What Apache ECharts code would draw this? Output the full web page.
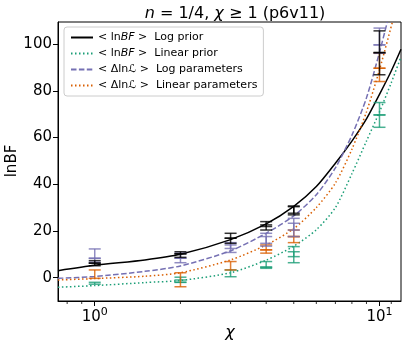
<!DOCTYPE html>
<html><head><meta charset="utf-8">
<script src="https://cdn.jsdelivr.net/npm/echarts@6/dist/echarts.min.js"></script>
<style>html,body{margin:0;padding:0;background:#fff}#c{width:407px;height:345px}</style>
</head><body><div id="c"></div>
<script>
// Curves: [chi, value]
const lnBFLogPrior = [[0.743,3.0],[1,5.3],[1.5,7.6],[2,10.0],[3,16.3],[4,23],[5,30.5],[6,39],[7,49],[8,58.5],[9,68],[10,78.5],[11,88.5],[11.9,97.8]];
const lnBFLinPrior = [[0.743,-4.1],[1,-3.4],[1.5,-2.1],[2,-1.2],[3,2.1],[4,7.5],[5,13.5],[6,20.5],[7,30],[8,44.5],[9,58.5],[10,71],[11,83.5],[11.9,94.6]];
const dLnLLogPar   = [[0.743,-0.3],[1,0.5],[1.5,2.7],[2,5.0],[3,11.5],[4,19],[5,26.5],[6,35.5],[7,47],[8,61],[9,77],[10,96.5],[10.65,109.5]];
const dLnLLinPar   = [[0.743,-1.0],[1,-0.4],[1.5,0.6],[2,2.1],[3,7.6],[4,14],[5,21],[6,30],[7,40.5],[8,55],[9,71],[10,89],[11.1,109.5]];
// Error bars: [chi, low, high]
const errLogPrior = [[1,5.1,7.3],[1,6.2,6.2],[2,8.7,11.1],[2,10.2,10.2],[3,14.7,19.0],[3,16.9,16.9],[4,20.4,24.0],[4,21.9,22.6],[5,26.9,30.7],[5,27.6,30.4],[10,86.9,105.7],[10,96.4,96.4]];
const errLinPrior = [[1,-2.8,-2.0],[2,-1.0,0.2],[2,-2.0,-2.0],[3,0.4,3.3],[4,4.0,6.9],[4,4.5,4.5],[5,6.4,13.3],[5,9.0,11.1],[10,64.4,75.0],[10,69.7,69.7]];
const errLogPar   = [[1,6.6,12.3],[1,8.3,8.3],[2,6.4,10.5],[2,8.3,8.3],[3,10.8,15.0],[3,12.5,14.0],[4,13.5,19.0],[4,14.7,17.6],[5,17.6,25.4],[5,20.4,23.3],[10,96.1,106.9],[10,99.7,99.7]];
const errLinPar   = [[1,-0.3,3.3],[2,-3.9,2.1],[3,3.3,6.9],[4,10.5,14.0],[4,11.9,11.9],[5,15.0,20.4],[5,17.6,17.6],[10,84.0,96.1],[10,89.7,89.7]];
// Ticks
const xMajorTicks = [1, 10];
const xMinorTicks = [0.8, 0.9, 2, 3, 4, 5, 6, 7, 8, 9, 11];
const yTicks = [0, 20, 40, 60, 80, 100];
const X_MIN = 0.743, X_MAX = 11.9, Y_MIN = -10, Y_MAX = 109.5;

const FONT = 'DejaVu Sans';
const C_BLACK = '#000000', C_GREEN = '#1b9e77', C_PURPLE = '#7570b3', C_ORANGE = '#d95f02';

const names = {
  a: '< lnBF > Log prior',
  b: '< lnBF > Linear prior',
  c: '< ΔlnL > Log parameters',
  d: '< ΔlnL > Linear parameters'
};
const legendRich = {
  [names.a]: '< ln{i|BF} >  Log prior',
  [names.b]: '< ln{i|BF} >  Linear prior',
  [names.c]: '< Δln{s|ℒ} >  Log parameters',
  [names.d]: '< Δln{s|ℒ} >  Linear parameters'
};

function errRender(color) {
  return function (params, api) {
    const x = api.value(0), lo = api.value(1), hi = api.value(2);
    const p1 = api.coord([x, lo]), p2 = api.coord([x, hi]);
    const w = 6;
    const st = {stroke: color, lineWidth: 1.5, opacity: 0.8};
    return {type: 'group', children: [
      {type: 'line', shape: {x1: p1[0], y1: p1[1], x2: p2[0], y2: p2[1]}, style: st},
      {type: 'line', shape: {x1: p1[0]-w, y1: p1[1], x2: p1[0]+w, y2: p1[1]}, style: st},
      {type: 'line', shape: {x1: p2[0]-w, y1: p2[1], x2: p2[0]+w, y2: p2[1]}, style: st}
    ]};
  };
}
function errSeries(data, color) {
  return {type: 'custom', data: data, renderItem: errRender(color), encode: {x: 0, y: [1, 2]}, z: 5, clip: true, silent: true};
}
function lineSeries(name, data, color, dash) {
  return {type: 'line', name: name, data: data, smooth: 0.25, symbol: 'none', clip: true, z: 3,
    lineStyle: {color: color, width: 1.5, type: dash}, itemStyle: {color: color}};
}

const chart = echarts.init(document.getElementById('c'), null, {renderer: 'canvas'});
chart.setOption({
  animation: false,
  backgroundColor: '#fff',
  textStyle: {fontFamily: FONT},
  title: {
    text: '{i|n} = 1/4, {i|χ} ≥ 1 (p6v11)',
    left: 230, top: 1, textAlign: 'center',
    textStyle: {fontSize: 16, fontWeight: 'normal', color: '#000', fontFamily: FONT,
      rich: {i: {fontStyle: 'italic', fontSize: 16, fontFamily: FONT, color: '#000'}}}
  },
  graphic: [
    {type: 'text', x: 12, y: 161, rotation: Math.PI / 2, z: 10,
     style: {text: 'lnBF', font: '15px "DejaVu Sans"', fill: '#000', align: 'center', verticalAlign: 'middle'}},
    {type: 'text', x: 230, y: 333, z: 10,
     style: {text: 'χ', font: 'italic 16px "DejaVu Sans"', fill: '#000', align: 'center', verticalAlign: 'middle'}}
  ],
  grid: {left: 58, right: 6, top: 22, bottom: 44, show: true, borderColor: '#000', borderWidth: 1,
         containLabel: false, outerBoundsMode: 'none'},
  legend: {
    orient: 'vertical', left: 64, top: 27,
    data: [names.a, names.b, names.c, names.d],
    itemWidth: 22, itemHeight: 10, itemGap: 5,
    padding: [5, 6, 5, 6],
    borderColor: '#cccccc', borderWidth: 1, borderRadius: 3,
    backgroundColor: 'rgba(255,255,255,0.8)',
    itemStyle: {opacity: 0, borderWidth: 0},
    formatter: n => legendRich[n] || n,
    textStyle: {fontSize: 11, color: '#000', fontFamily: FONT,
      rich: {i: {fontStyle: 'italic', fontSize: 11, fontFamily: FONT, color: '#000'},
             s: {fontStyle: 'italic', fontSize: 11, fontFamily: FONT, color: '#000'}}},
    selectedMode: false
  },
  xAxis: [{
    type: 'log', logBase: 10, min: X_MIN, max: X_MAX,
    axisLine: {show: true, onZero: false, lineStyle: {color: '#000', width: 1}},
    axisTick: {show: true, customValues: xMajorTicks, length: 5, lineStyle: {color: '#000', width: 1}},
    axisLabel: {customValues: xMajorTicks, margin: 6, color: '#000', fontSize: 15, fontFamily: FONT,
      formatter: v => '10{s|' + Math.round(Math.log10(v)) + '}',
      rich: {s: {fontSize: 11, verticalAlign: 'top', padding: [0, 0, 10, 0], color: '#000', fontFamily: FONT}}},
    splitLine: {show: false}, minorTick: {show: false}, minorSplitLine: {show: false}
  }],
  yAxis: [{
    type: 'value', min: Y_MIN, max: Y_MAX,
    axisLine: {show: true, lineStyle: {color: '#000', width: 1}},
    axisTick: {show: true, customValues: yTicks, length: 5, lineStyle: {color: '#000', width: 1}},
    axisLabel: {customValues: yTicks, margin: 6, color: '#000', fontSize: 15, fontFamily: FONT},
    splitLine: {show: false}
  }],
  series: [
    lineSeries(names.a, lnBFLogPrior, C_BLACK, 'solid'),
    lineSeries(names.b, lnBFLinPrior, C_GREEN, [1.5, 2.5]),
    lineSeries(names.c, dLnLLogPar, C_PURPLE, [5.5, 2.4]),
    lineSeries(names.d, dLnLLinPar, C_ORANGE, [1.5, 2.5]),
    errSeries(errLinPrior, C_GREEN),
    errSeries(errLinPar, C_ORANGE),
    errSeries(errLogPar, C_PURPLE),
    errSeries(errLogPrior, C_BLACK),
    {
      type: 'custom', data: xMinorTicks.map(v => [v]), clip: false, silent: true, z: 6,
      encode: {x: 0},
      renderItem: function (params, api) {
        const p = api.coord([api.value(0), Y_MIN]);
        return {type: 'line', shape: {x1: p[0], y1: p[1], x2: p[0], y2: p[1] + 3}, style: {stroke: '#000', lineWidth: 0.8}};
      }
    }
  ]
});
</script></body></html>
